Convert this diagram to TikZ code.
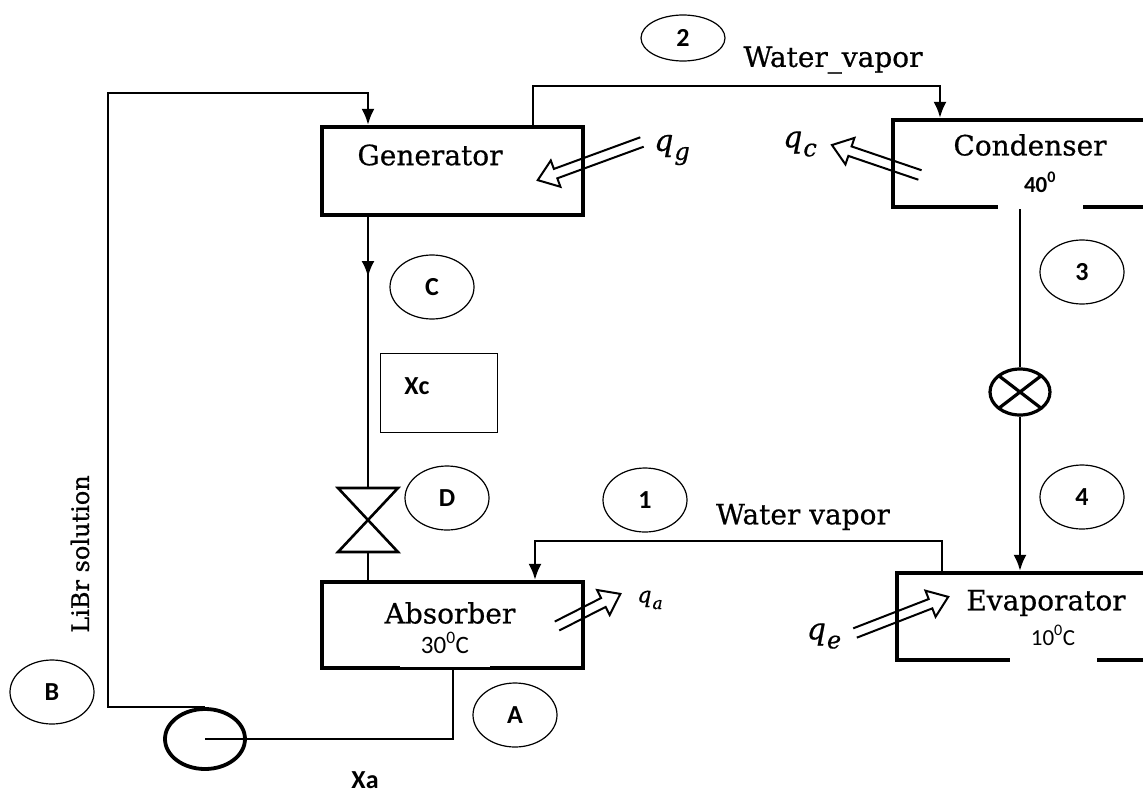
\documentclass[tikz,border=0pt]{standalone}
\usepackage{fontspec}
\setmainfont{DejaVu Serif}[FakeBold=0.6]
\newfontfamily\calfont{Carlito}
\usetikzlibrary{arrows.meta,shapes.geometric}
\newcommand\qarrow[3]{%
  \begin{scope}[shift={#1}, rotate=#2]
    \draw[heat] (0,5) -- (#3-19,5) -- (#3-19,14) -- (#3,0) -- (#3-19,-14) -- (#3-19,-5) -- (0,-5);
  \end{scope}}
\newcommand\qsym[3]{{\fontsize{#1}{#1}\selectfont\itshape q\kern1pt\raisebox{-0.3em}{\fontsize{#2}{#2}\selectfont #3}}}
\begin{document}
\begin{tikzpicture}[x=1pt,y=-1pt,
  pipe/.style={line width=2.6pt},
  arr/.style={-{Latex[length=16pt,width=13pt]}},
  devbox/.style={draw, line width=4.2pt, inner sep=0pt},
  tag/.style={draw, ellipse, line width=1.2pt, inner sep=0pt, minimum width=84pt, minimum height=64pt, font=\calfont\bfseries\fontsize{26}{28}\selectfont},
  unitlabel/.style={inner sep=0pt, font=\fontsize{28}{30}\selectfont},
  temp/.style={fill=white, inner sep=0pt, text height=20pt, anchor=base},
  heat/.style={line width=2pt, line join=miter},
  qlab/.style={inner sep=0pt},
]
\useasboundingbox (0,0) rectangle (1143,795);

% units
\node[devbox, minimum width=261pt, minimum height=88pt] (gen) at (452.5,171) {};
\node[devbox, minimum width=257pt, minimum height=87pt] (cond) at (1021.5,163.5) {};
\node[devbox, minimum width=261pt, minimum height=86pt] (abs) at (452.5,625) {};
\node[devbox, minimum width=253pt, minimum height=87pt] (evap) at (1023.5,616.5) {};

\node[unitlabel] (gent) at (430,155) {Generator};
\node[unitlabel] (condt) at (1030,145) {Condenser};
\node[unitlabel] (abst) at (450,613) {Absorber};
\node[unitlabel] (evapt) at (1046,603) {Evaporator};

% temperatures
\node[temp, font=\calfont\bfseries\fontsize{23}{25}\selectfont, minimum width=85pt, text depth=19pt] (t40) at (1040,192) {40\textsuperscript{0}};
\node[temp, font=\calfont\fontsize{25}{27}\selectfont, minimum width=90pt, text depth=14pt] (t30) at (445,653) {30\textsuperscript{0}C};
\node[temp, font=\calfont\fontsize{23}{25}\selectfont, minimum width=87pt, text depth=17pt] (t10) at (1053,645) {10\textsuperscript{0}C};

% state labels
\node[tag, minimum height=46pt] (n2) at (683,38) {2};
\node[tag] (n1) at (645,500) {1};
\node[tag] (n3) at (1082,272) {3};
\node[tag] (n4) at (1082,497) {4};
\node[tag] (nC) at (432,287) {C};
\node[tag] (nD) at (447,498) {D};
\node[tag] (nA) at (515,715) {A};
\node[tag] (nB) at (52,692) {B};

\node[unitlabel] (wv2) at (833,60) {Water\_vapor};
\node[unitlabel] (wv1) at (803,517) {Water vapor};
\node[unitlabel, rotate=90, font=\fontsize{24}{26}\selectfont] (libr) at (80,554) {LiBr solution};

\node[draw, line width=1pt, minimum width=117pt, minimum height=79pt, inner sep=0pt] (xcbox) at (438.5,392.5) {};
\node[inner sep=0pt, font=\calfont\bfseries\fontsize{26}{28}\selectfont] (xc) at (417,386) {Xc};
\node[inner sep=0pt, font=\calfont\bfseries\fontsize{26}{28}\selectfont] (xa) at (365,780) {Xa};

% pump and valves
\node[draw, ellipse, line width=3.8pt, minimum width=80pt, minimum height=60pt, inner sep=0pt] (pump) at (205,739) {};
\node[draw, ellipse, line width=3.2pt, minimum width=60pt, minimum height=46pt, inner sep=0pt,
  path picture={\draw[line width=3.2pt] (path picture bounding box.north west) -- (path picture bounding box.south east)
   (path picture bounding box.north east) -- (path picture bounding box.south west);}] (xv) at (1020,392) {};
\coordinate (vtop) at (368,488);
\coordinate (vbot) at (368,552);
\draw[line width=2.6pt, line join=miter] (338,488) -- (398,488) -- (338,552) -- (398,552) -- cycle;

% pipes
\draw[pipe,arr] (pump.north) -| (108,93) -| (gen.north -| 368,0);
\draw[pipe,arr] (gen.north -| 533,0) |- (940,86) -- (cond.north -| 940,0);
\draw[pipe,arr] (gen.south -| 368,0) -- (368,277);
\draw[pipe] (368,270) -- (vtop);
\draw[pipe] (vbot) -- (abs.north -| 368,0);
\draw[pipe] (pump.center) -| (abs.south -| 453,0);
\draw[pipe,arr] (evap.north -| 942,0) |- (535,541) -- (abs.north -| 535,0);
\draw[pipe] (cond.south -| 1020,0) -- (xv.north);
\draw[pipe,arr] (xv.south) -- (evap.north -| 1020,0);

% heat flows
\qarrow{(642,142)}{200.1}{111}
\qarrow{(920,175)}{161.2}{93}
\qarrow{(557,626)}{26.9}{71}
\qarrow{(855,633)}{21.2}{100}
\node[qlab] (qg) at (672,150) {\qsym{30}{24}{g}};
\node[qlab] (qc) at (800,144) {\qsym{30}{24}{c}};
\node[qlab] (qa) at (650,600) {\qsym{22}{17}{a}};
\node[qlab] (qe) at (824,636) {\qsym{30}{24}{e}};
\end{tikzpicture}
\end{document}
